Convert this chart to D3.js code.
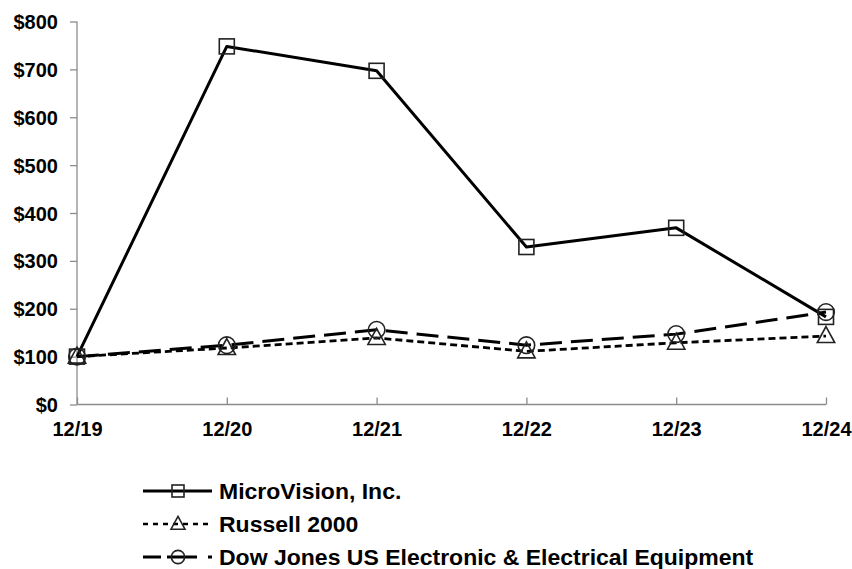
<!DOCTYPE html>
<html>
<head>
<meta charset="utf-8">
<script src="https://cdn.jsdelivr.net/npm/d3@7"></script>
<style>
  body { margin: 0; background: #fff; }
  text { font-family: "Liberation Sans", Arial, sans-serif; font-weight: bold; fill: #000; }
</style>
</head>
<body>
<svg id="chart" width="852" height="569"></svg>
<script>
// dados
const periods = ["12/19", "12/20", "12/21", "12/22", "12/23", "12/24"];
const yTicks = [0, 100, 200, 300, 400, 500, 600, 700, 800];
const microVision = [100, 748, 697, 329, 369, 183];
const russell2000 = [100, 118, 139, 111, 129, 143];
const dowJones = [100, 124, 156, 124, 147, 193];

const series = [
  { name: "MicroVision, Inc.", values: microVision, dash: null, width: 3, marker: "square", legendDash: null },
  { name: "Russell 2000", values: russell2000, dash: "7,4", width: 2.8, marker: "triangle", legendDash: "5,5" },
  { name: "Dow Jones US Electronic & Electrical Equipment", values: dowJones, dash: "22,9", width: 3, marker: "circle", legendDash: "18,6,30,11,4" }
];

const svg = d3.select("#chart");
const plotLeft = 77, plotRight = 826, plotTop = 21.5, plotBottom = 404.5;

const x = d3.scalePoint().domain(periods).range([plotLeft, plotRight]);
const y = d3.scaleLinear().domain([0, 800]).range([plotBottom, plotTop]);

// eixo Y
const yAxis = svg.append("g").attr("transform", `translate(${plotLeft},0)`)
  .call(d3.axisLeft(y).tickValues(yTicks).tickSize(7).tickPadding(12).tickFormat(d => "$" + d));
yAxis.selectAll("line, path").attr("stroke", "#8c8c8c").attr("stroke-width", 1.3);
yAxis.select(".domain").attr("d", `M0,${plotBottom}V${plotTop}`);
yAxis.selectAll("text").style("font-size", "20px").attr("dy", "0.35em");

// eixo X (marcas para dentro)
const xAxis = svg.append("g").attr("transform", `translate(0,${plotBottom})`)
  .call(d3.axisBottom(x).tickSize(-7).tickPadding(0));
xAxis.selectAll("line, path").attr("stroke", "#8c8c8c").attr("stroke-width", 1.3);
xAxis.select(".domain").attr("d", `M${plotLeft},0H${plotRight}`);
xAxis.selectAll("text").style("font-size", "20px").attr("y", 31).attr("dy", 0);

function drawMarker(g, type, cx, cy, k) {
  const m = g.append("g").attr("transform", `translate(${cx},${cy}) scale(${k})`)
    .attr("fill", "none").attr("stroke", "#222").attr("stroke-width", 1.6 / k);
  if (type === "square") m.append("rect").attr("x", -7.5).attr("y", -7.5).attr("width", 15).attr("height", 15);
  if (type === "circle") m.append("circle").attr("r", 8.3);
  if (type === "triangle") m.append("path").attr("d", "M0,-9.5L8.7,6.5L-8.7,6.5Z");
}

const line = d3.line().x((d, i) => x(periods[i])).y(d => y(d));

// linhas e marcadores
series.slice().reverse().forEach(s => {
  svg.append("path").datum(s.values)
    .attr("d", line).attr("fill", "none").attr("stroke", "#000")
    .attr("stroke-width", s.width).attr("stroke-dasharray", s.dash)
    .attr("stroke-linejoin", "round");
});
series.forEach(s => {
  s.values.forEach((v, i) => drawMarker(svg, s.marker, x(periods[i]), y(v), 1));
});

// legenda
const legend = svg.append("g");
series.forEach((s, i) => {
  const ly = 491 + i * 33;
  legend.append("line").attr("x1", 143).attr("x2", 212).attr("y1", ly).attr("y2", ly)
    .attr("stroke", "#000").attr("stroke-width", s.marker === "triangle" ? 2.4 : 2.8)
    .attr("stroke-dasharray", s.legendDash);
  drawMarker(legend, s.marker, 178, ly, 0.8);
  legend.append("text")
    .attr("transform", `translate(219,${ly}) scale(1.06,1)`)
    .attr("dy", "0.36em")
    .style("font-size", "21.7px").text(s.name);
});
</script>
</body>
</html>
